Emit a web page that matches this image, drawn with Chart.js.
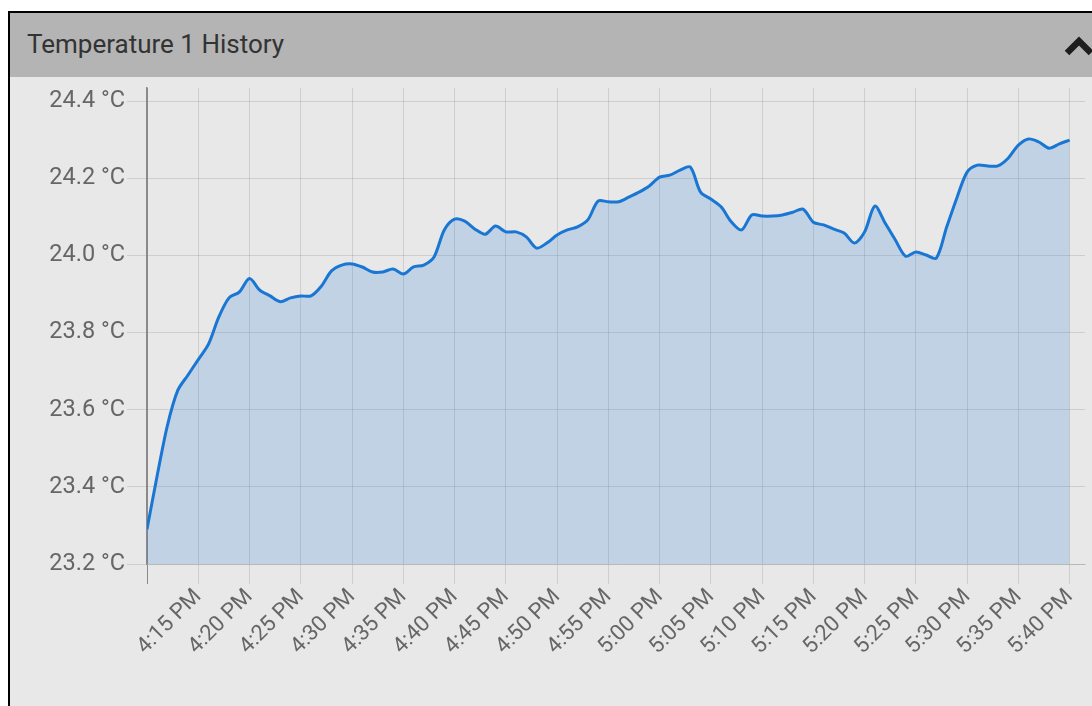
<!DOCTYPE html>
<html>
<head>
<meta charset="utf-8">
<title>Temperature 1 History</title>
<script src="https://cdn.jsdelivr.net/npm/chart.js@4.4.1/dist/chart.umd.min.js"></script>
<style>
  html, body { margin: 0; padding: 0; background: #fff; overflow: hidden; }
  .panel {
    position: absolute; left: 8px; top: 11px;
    width: 1200px; height: 800px;
    border: 2px solid #000;
    background: #e8e8e8;
  }
  .panel-header {
    height: 64px; line-height: 63px;
    background: #b4b4b4;
    padding-left: 17px;
    font-family: Roboto, sans-serif; font-size: 26px; color: #333;
  }
  .chevron { position: absolute; left: 1052px; top: 23px; }
  .chart-box { position: absolute; left: 0; top: 64px; width: 1082px; height: 629px; }
</style>
</head>
<body>
<div class="panel">
  <div class="panel-header">Temperature 1 History</div>
  <svg class="chevron" width="40" height="30">
    <polyline points="5,17 17,5 29,17" fill="none" stroke="#1e1e1e" stroke-width="6.5" stroke-linecap="butt" stroke-linejoin="miter"/>
  </svg>
  <div class="chart-box"><canvas id="histChart" width="1082" height="629"></canvas></div>
</div>

<script>
// ── Data: one reading per minute, starting 4:10 PM ──
const temps = [
  23.29, 23.43, 23.56, 23.65, 23.69, 23.73, 23.77, 23.84, 23.89, 23.905,
  23.94, 23.91, 23.895, 23.88, 23.89, 23.895, 23.895, 23.92, 23.96, 23.975,
  23.978, 23.97, 23.957, 23.957, 23.965, 23.952, 23.97, 23.975, 23.996, 24.066,
  24.094, 24.089, 24.068, 24.055, 24.076, 24.061, 24.061, 24.048, 24.019, 24.032,
  24.053, 24.066, 24.074, 24.092, 24.141, 24.139, 24.139, 24.151, 24.164, 24.18,
  24.203, 24.208, 24.221, 24.229, 24.164, 24.146, 24.126, 24.087, 24.066, 24.105,
  24.102, 24.102, 24.105, 24.112, 24.12, 24.086, 24.079, 24.068, 24.058, 24.032,
  24.061, 24.128, 24.084, 24.04, 23.998, 24.009, 24.001, 23.993, 24.073, 24.149,
  24.216, 24.234, 24.232, 24.232, 24.252, 24.286, 24.302, 24.294, 24.278, 24.289,
  24.299
];

// x ticks in minutes after 4:10 PM
const xTickMinutes = [0, 5, 10, 15, 20, 25, 30, 35, 40, 45, 50, 55, 60, 65, 70, 75, 80, 85, 90];
const xTickLabels = ['', '4:15 PM', '4:20 PM', '4:25 PM', '4:30 PM', '4:35 PM', '4:40 PM', '4:45 PM',
  '4:50 PM', '4:55 PM', '5:00 PM', '5:05 PM', '5:10 PM', '5:15 PM', '5:20 PM', '5:25 PM',
  '5:30 PM', '5:35 PM', '5:40 PM'];
const yTicks = [23.2, 23.4, 23.6, 23.8, 24.0, 24.2, 24.4];

// ── Styles ──
const GRID = 'rgba(0, 0, 0, 0.11)';
const AXIS = '#8a8a8a';
const TICK_COLOR = '#666';

const points = temps.map((t, i) => ({ x: i, y: t }));

new Chart(document.getElementById('histChart').getContext('2d'), {
  type: 'line',
  data: {
    datasets: [{
      data: points,
      borderColor: '#1976d2',
      borderWidth: 3,
      backgroundColor: 'rgba(25, 118, 210, 0.19)',
      fill: 'start',
      pointRadius: 0,
      tension: 0.3,
    }],
  },
  options: {
    responsive: false,
    animation: false,
    layout: { padding: { top: 11, right: 7, left: 0, bottom: 0 } },
    plugins: { legend: { display: false }, tooltip: { enabled: false } },
    scales: {
      x: {
        type: 'linear',
        min: 0,
        max: 91.5,
        afterBuildTicks: s => { s.ticks = xTickMinutes.map(v => ({ value: v })); },
        afterFit: s => { s.height = 142; },
        ticks: {
          autoSkip: false,
          minRotation: 45,
          maxRotation: 45,
          padding: 0,
          font: { family: 'Roboto', size: 22 },
          color: TICK_COLOR,
          callback: (v, i) => xTickLabels[i],
        },
        grid: {
          color: ctx => (ctx.tick && ctx.tick.value === 0 ? AXIS : GRID),
          tickLength: 20,
        },
        border: { color: GRID },
      },
      y: {
        min: 23.2,
        max: 24.434,
        afterBuildTicks: s => { s.ticks = yTicks.map(v => ({ value: v })); },
        // fixed width, and no extra room reserved for the end labels
        afterFit: s => { s.width = 137; s.paddingTop = 0; s.paddingBottom = 0; },
        ticks: {
          padding: 2,
          font: { family: 'Roboto', size: 23.5 },
          color: TICK_COLOR,
          callback: v => v.toFixed(1) + ' °C',
        },
        grid: { color: GRID, tickLength: 20 },
        border: { color: AXIS, width: 1.5 },
      },
    },
  },
});
</script>
</body>
</html>
